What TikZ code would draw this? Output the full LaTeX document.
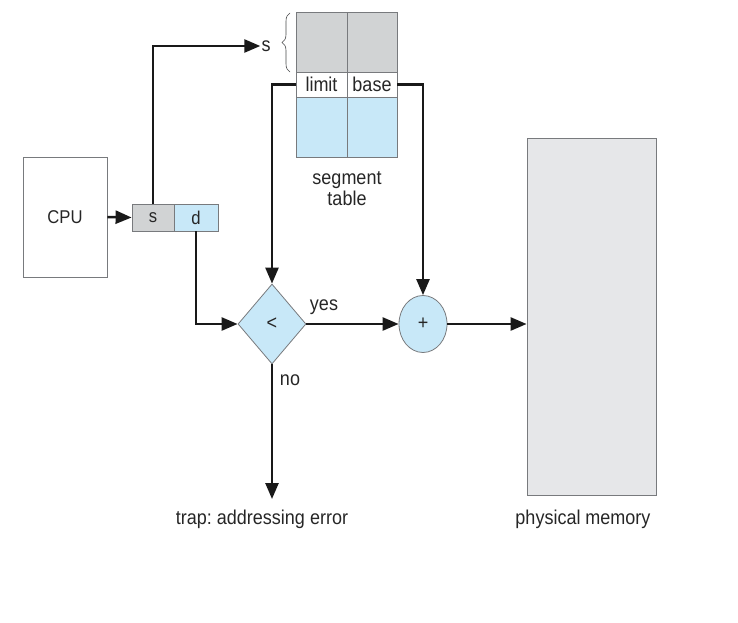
\documentclass[tikz,border=0pt]{standalone}
\usepackage{fontspec}
\setmainfont{Liberation Sans}[FakeStretch=0.9]
\frenchspacing
\usetikzlibrary{shapes.geometric,arrows.meta,decorations.pathreplacing}
\definecolor{cellgray}{RGB}{209,211,212}
\definecolor{cellblue}{RGB}{200,232,248}
\definecolor{memgray}{RGB}{230,231,233}
\definecolor{edgegray}{RGB}{120,122,125}
\tikzset{
  txt/.style={font=\fontsize{20}{22}\selectfont, text=black!85},
  smalltxt/.style={font=\fontsize{18.5}{21}\selectfont, text=black!85},
  cell/.style={draw=edgegray, line width=0.8pt, inner sep=0pt, txt},
  conn/.style={line width=2.5pt, black!90},
  arr/.style={conn, -{Triangle[length=16pt,width=13pt]}},
}
\begin{document}
\begin{tikzpicture}[x=1pt,y=-1pt]
\useasboundingbox (0,0) rectangle (738,623);
% CPU
\node[cell, smalltxt, minimum width=84pt, minimum height=120pt] (cpu) at (65,217) {CPU};
% logical address
\node[cell, smalltxt, fill=cellgray, minimum width=42pt, minimum height=27pt] (sbox) at (153,217.5) {s};
\node[cell, smalltxt, fill=cellblue, minimum width=44pt, minimum height=27pt] (dbox) at (196,217.5) {d};
% segment table
\node[cell, fill=cellgray, minimum width=51pt, minimum height=60pt] (tl) at (321.5,42) {};
\node[cell, fill=cellgray, minimum width=50pt, minimum height=60pt] (tr) at (372,42) {};
\node[cell, fill=white, minimum width=51pt, minimum height=25pt] (limit) at (321.5,84.5) {limit};
\node[cell, fill=white, minimum width=50pt, minimum height=25pt] (base) at (372,84.5) {base};
\node[cell, fill=cellblue, minimum width=51pt, minimum height=60pt] (bl) at (321.5,127) {};
\node[cell, fill=cellblue, minimum width=50pt, minimum height=60pt] (br) at (372,127) {};
\node[txt, align=center] (stlabel) at (347,189) {segment\\[-1pt]table};
% s label and brace
\node[txt, inner sep=1pt] (sl) at (266,46) {s};
\draw[line width=0.6pt, edgegray!60!black, decorate, decoration={brace, amplitude=8pt}] (290,72) -- (290,13);
% comparator and adder
\node[diamond, draw=edgegray, line width=0.8pt, fill=cellblue, minimum width=68pt, minimum height=80pt, inner sep=0pt, txt] (dia) at (272,324) {<};
\node[ellipse, draw=edgegray, line width=0.8pt, fill=cellblue, minimum width=48pt, minimum height=57pt, inner sep=0pt, txt] (plus) at (423,324) {+};
% physical memory
\node[cell, fill=memgray, minimum width=129pt, minimum height=357pt] (mem) at (591.5,316.5) {};
\node[txt] (memlabel) at (583,519) {physical memory};
\node[txt] (trap) at (262,519) {trap: addressing error};
\coordinate (trapend) at (272,499);
% labels
\node[txt] (yes) at (324,307) {yes};
\node[txt] (no) at (290,380) {no};
% connectors
\draw[arr] (cpu.east) -- (sbox.west);
\draw[arr] (sbox.north) |- (sl.west);
\draw[arr] (limit.west) -| (dia.north);
\draw[arr] (base.east) -| (plus.north);
\draw[arr] (dbox.south) |- (dia.west);
\draw[arr] (dia.east) -- (plus.west);
\draw[arr] (plus.east) -- (plus.east -| mem.west);
\draw[arr] (dia.south) -- (trapend);
\end{tikzpicture}
\end{document}
